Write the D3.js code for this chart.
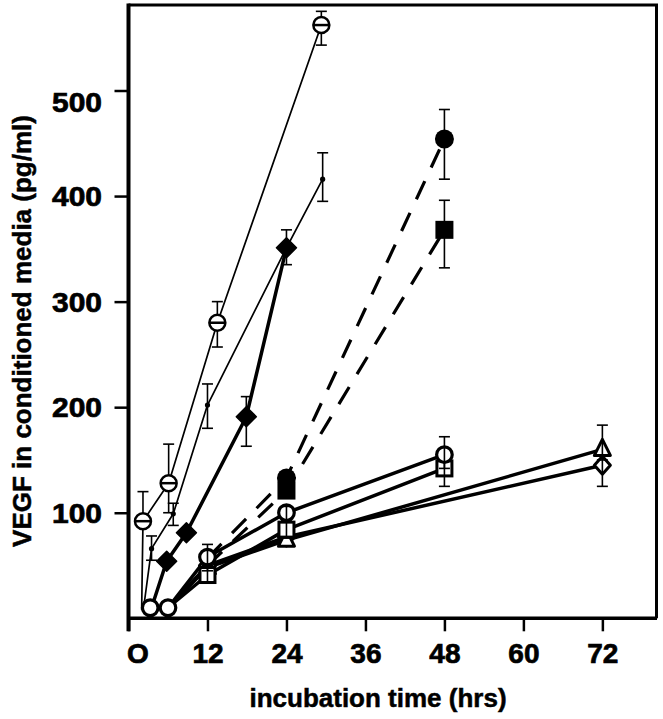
<!DOCTYPE html>
<html><head><meta charset="utf-8">
<script src="https://cdn.jsdelivr.net/npm/d3@7"></script>
<style>
body{margin:0;background:#fff}
svg{display:block}
text{font-family:"Liberation Sans",Arial,Helvetica,sans-serif;font-weight:bold;fill:#000;stroke:#000}
</style>
</head><body>
<svg id="chart" width="663" height="719"></svg>
<script>
// ---- data ----
const xTickValues = [0, 12, 24, 36, 48, 60, 72];
const xTickLabels = ["O", "12", "24", "36", "48", "60", "72"];
const yTickValues = [100, 200, 300, 400, 500];
const xTitle = "incubation time (hrs)";
const yTitle = "VEGF in conditioned media  (pg/ml)";

// each point: [hours, VEGF pg/ml, errLow, errHigh]
const openBarCircle = [[2, 8], [2.2, 92, 92, 120], [6.1, 128, 100, 165], [13.5, 280, 257, 300], [29.3, 562, 543, 575]];
const smallDot      = [[2.3, 10], [3.5, 66, 55, 78], [6.8, 99, 88, 109], [12, 202, 180, 222], [24, 351], [29.5, 416, 395, 441]];
const filledDiamond = [[3.5, 10], [5.8, 54], [8.8, 81], [17.9, 191, 163, 210], [24, 351, 335, 368]];
const filledCircle  = [[12, 57], [24, 133], [48, 454, 416, 482]];
const filledSquare  = [[12, 50], [24, 121], [48, 368, 332, 396]];
const openCircle    = [[3.3, 10], [6, 10], [12, 58, 45, 70], [24, 100, 93, 106], [48, 155, 142, 172]];
const openSquare    = [[3.3, 10], [6, 10], [12, 41, 34, 50], [24, 84, 76, 94], [48, 142, 125, 150]];
const openTriangle  = [[3.3, 10], [6, 10], [12, 48], [24, 74], [72, 160, 150, 183]];
const openDiamond   = [[3.3, 10], [6, 10], [12, 50], [24, 77], [72, 145, 125, 155]];

// ---- styles ----
const seriesList = [
  {data: openDiamond,   lw: 3.5, marker: "diamond",  skip: 2, errOnTop: true},
  {data: openTriangle,  lw: 3.5, marker: "triangle", skip: 2, errOnTop: true},
  {data: openSquare,    lw: 3.5, marker: "square",   skip: 2, errOnTop: true},
  {data: openCircle,    lw: 3.5, marker: "circle",   skip: 0, errOnTop: true},
  {data: filledSquare,  lw: 3.2, dash: "20,15", marker: "bigsquare", skip: 1},
  {data: filledCircle,  lw: 3.2, dash: "20,15", marker: "bigcircle", skip: 1},
  {data: filledDiamond, lw: 3.5, marker: "bigdiamond", skip: 1},
  {data: smallDot,      lw: 1.7, marker: "dot", skip: 1},
  {data: openBarCircle, lw: 1.7, marker: "barcircle", skip: 1}
];

const svg = d3.select("#chart");
const x = d3.scaleLinear().domain([0, 80.3]).range([128.5, 657]);
const y = d3.scaleLinear().domain([0, 581]).range([618.3, 5]);

// frame
svg.append("path")
  .attr("d", `M${x(0)},${y(581)}H${x(80.3)-0.5}V${y(0)}`)
  .attr("fill", "none").attr("stroke", "#000").attr("stroke-width", 3);

// x axis
const gx = svg.append("g").attr("transform", `translate(0,${y(0)})`)
  .call(d3.axisBottom(x).tickValues(xTickValues).tickSize(13)
    .tickFormat((d, i) => xTickLabels[i]));
gx.select(".domain").remove();
gx.selectAll(".tick line").attr("stroke-width", 2.5);
gx.selectAll(".tick text").attr("y", 45).attr("dy", null)
  .attr("x", (d, i) => i === 0 ? 9 : 0)
  .attr("stroke", "#000").attr("stroke-width", 0.7)
  .style("font-size", "28px").style("font-family", null);

// y axis
const gy = svg.append("g").attr("transform", `translate(${x(0)},0)`)
  .call(d3.axisLeft(y).tickValues(yTickValues).tickSize(14).tickFormat(d3.format("d")));
gy.select(".domain").remove();
gy.selectAll(".tick line").attr("stroke-width", 2.5);
gy.selectAll(".tick text").attr("x", -26.5).attr("dy", null)
  .attr("y", d => d === 500 ? 21 : 9.7)
  .attr("textLength", 50).attr("lengthAdjust", "spacingAndGlyphs")
  .attr("stroke", "#000").attr("stroke-width", 0.7)
  .style("font-size", "27px").style("font-family", null);

// axis lines (thicker left and bottom)
svg.append("line").attr("x1", x(0)).attr("x2", x(0)).attr("y1", y(581)-1.5).attr("y2", y(0)+13)
  .attr("stroke", "#000").attr("stroke-width", 4);
svg.append("line").attr("x1", x(0)).attr("x2", x(80.3)).attr("y1", y(0)).attr("y2", y(0))
  .attr("stroke", "#000").attr("stroke-width", 3.5);

// titles
svg.append("text").attr("x", 378).attr("y", 707).attr("text-anchor", "middle")
  .attr("stroke-width", 0.5)
  .style("font-size", "26px").text(xTitle);
svg.append("text").attr("transform", "translate(31,331) rotate(-90)").attr("text-anchor", "middle")
  .attr("stroke-width", 0.5)
  .style("font-size", "26px").text(yTitle);

// lines
const line = d3.line().x(d => x(d[0])).y(d => y(d[1]));
const gLines = svg.append("g");
seriesList.forEach(s => {
  gLines.append("path").attr("d", line(s.data))
    .attr("fill", "none").attr("stroke", "#000").attr("stroke-width", s.lw)
    .attr("stroke-linejoin", "round")
    .attr("stroke-dasharray", s.dash || null);
});

function drawErr(g, s) {
  s.data.forEach(d => {
    if (d[2] == null) return;
    const cx = x(d[0]);
    g.append("line").attr("x1", cx).attr("x2", cx).attr("y1", y(d[2])).attr("y2", y(d[3]))
      .attr("stroke", "#000").attr("stroke-width", 1.6);
    g.append("line").attr("x1", cx - 5.5).attr("x2", cx + 5.5).attr("y1", y(d[3])).attr("y2", y(d[3]))
      .attr("stroke", "#000").attr("stroke-width", 1.6);
    if (d[2] < d[1]) {
      g.append("line").attr("x1", cx - 5.5).attr("x2", cx + 5.5).attr("y1", y(d[2])).attr("y2", y(d[2]))
        .attr("stroke", "#000").attr("stroke-width", 1.6);
    }
  });
}

function drawMarker(g, s, d) {
  const cx = x(d[0]), cy = y(d[1]);
  const m = s.marker;
  if (m === "circle") {
    g.append("circle").attr("cx", cx).attr("cy", cy).attr("r", 7.8)
      .attr("fill", "#fff").attr("stroke", "#000").attr("stroke-width", 3.2);
  } else if (m === "square") {
    g.append("rect").attr("x", cx - 7.5).attr("y", cy - 7.5).attr("width", 15).attr("height", 15)
      .attr("fill", "#fff").attr("stroke", "#000").attr("stroke-width", 3);
  } else if (m === "triangle") {
    g.append("path").attr("d", `M${cx},${cy-10}L${cx+8},${cy+6}L${cx-8},${cy+6}Z`)
      .attr("fill", "#fff").attr("stroke", "#000").attr("stroke-width", 3).attr("stroke-linejoin", "round");
  } else if (m === "diamond") {
    g.append("path").attr("d", `M${cx},${cy-9}L${cx+8},${cy}L${cx},${cy+9}L${cx-8},${cy}Z`)
      .attr("fill", "#fff").attr("stroke", "#000").attr("stroke-width", 3).attr("stroke-linejoin", "round");
  } else if (m === "bigcircle") {
    g.append("circle").attr("cx", cx).attr("cy", cy).attr("r", 9.5).attr("fill", "#000");
  } else if (m === "bigsquare") {
    g.append("rect").attr("x", cx - 9).attr("y", cy - 9).attr("width", 18).attr("height", 18).attr("fill", "#000");
  } else if (m === "bigdiamond") {
    g.append("path").attr("d", `M${cx},${cy-10}L${cx+10},${cy}L${cx},${cy+10}L${cx-10},${cy}Z`)
      .attr("fill", "#000").attr("stroke", "#000").attr("stroke-width", 1.5).attr("stroke-linejoin", "round");
  } else if (m === "dot") {
    g.append("circle").attr("cx", cx).attr("cy", cy).attr("r", 2.6).attr("fill", "#000");
  } else if (m === "barcircle") {
    g.append("circle").attr("cx", cx).attr("cy", cy).attr("r", 8)
      .attr("fill", "#fff").attr("stroke", "#000").attr("stroke-width", 2.5);
    g.append("line").attr("x1", cx - 8).attr("x2", cx + 8).attr("y1", cy).attr("y2", cy)
      .attr("stroke", "#000").attr("stroke-width", 2.5);
  }
}

const gMarks = svg.append("g");
seriesList.forEach(s => {
  if (!s.errOnTop) drawErr(gMarks, s);
  s.data.forEach((d, i) => { if (i >= s.skip) drawMarker(gMarks, s, d); });
  if (s.errOnTop) drawErr(gMarks, s);
});
</script>
</body></html>
